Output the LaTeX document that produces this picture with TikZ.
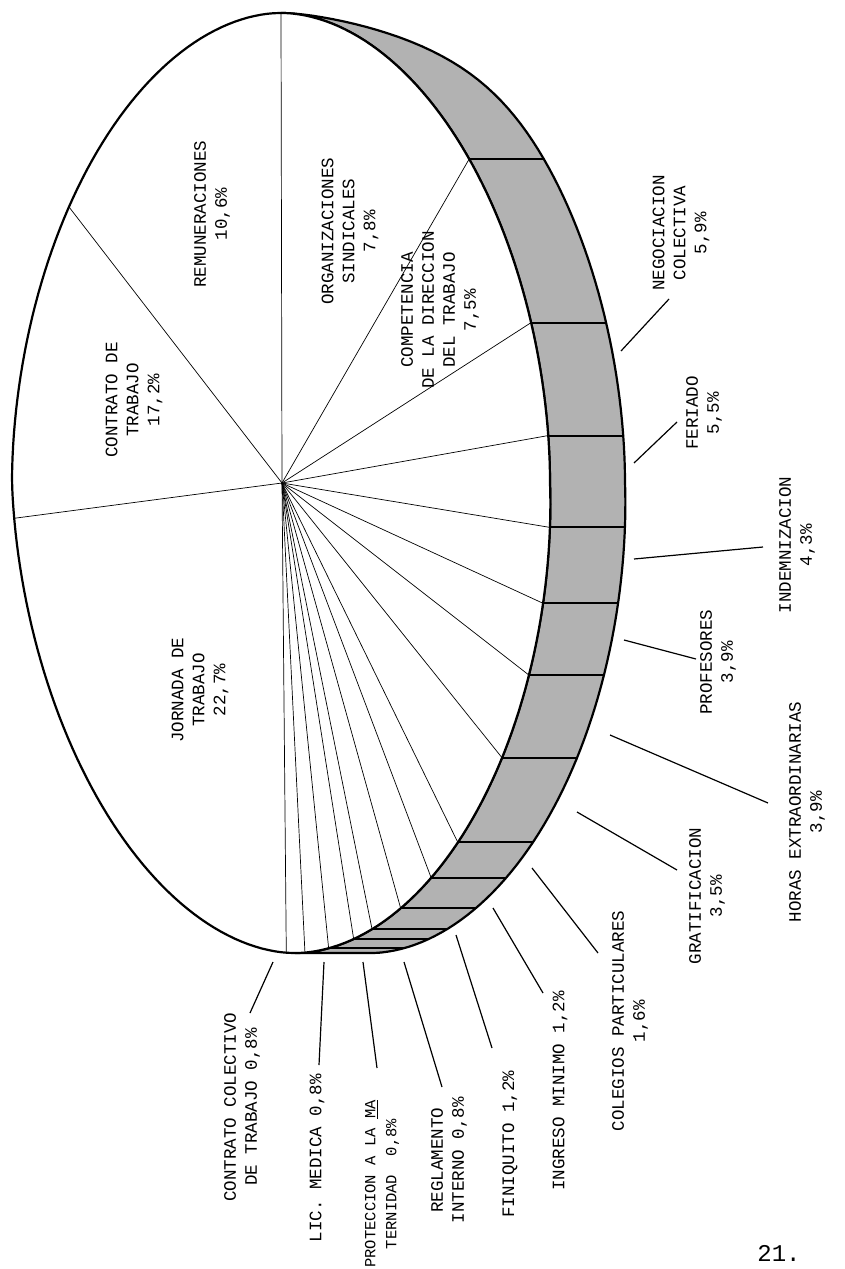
\documentclass[tikz,border=0pt]{standalone}
\usepackage{fontspec}
\newfontfamily\tw{Liberation Mono}

\tikzset{
  lab/.style={font=\tw\fontsize{17.5}{21}\selectfont, rotate=90, align=center, inner sep=0pt},
  spoke/.style={line width=0.7pt},
  rim/.style={line width=2.2pt, line join=round},
  divider/.style={line width=2pt},
  leader/.style={line width=1.2pt},
  declare function={
    ex(\t)=281+269*cos(\t)*(abs(cos(\t))+0.00001)^0.0526+14*max(-sin(\t),0);
    ey(\t)=483-470*sin(\t)*(abs(sin(\t))+0.00001)^0.0526;
    dx(\t)=75*(1-max(sin(\t),0)^15);
  },
}

\begin{document}
\begin{tikzpicture}[x=1pt,y=-1pt]
\useasboundingbox (0,0) rectangle (844,1269);
% centre of the top face and spoke ends (angles on the outline)
\coordinate (c) at (282,483);
\foreach \n/\t in {1/90,2/44.6,3/21.1,4/6.5,5/-6.1,6/-15.9,7/-25.3,8/-36.9,9/-50.8,10/-57.9,
                   11/-65.4,12/-72.1,13/-76.3,14/-82,15/-87.5,16/-92.2,17/184.9,18/142.9}
  \coordinate (s\n) at ({ex(\t)},{ey(\t)});

% side band of the pie
\filldraw[rim, fill=black!30]
  plot[domain=90:-90, samples=120] ({ex(\x)+dx(\x)},{ey(\x)})
  -- plot[domain=-90:90, samples=120] ({ex(\x)},{ey(\x)}) -- cycle;
\foreach \n in {2,...,16}
  \draw[divider] (s\n) -- ++(75,0);

% top face
\filldraw[rim, fill=white] plot[domain=0:360, samples=240] ({ex(\x)},{ey(\x)}) -- cycle;
\foreach \n in {1,...,18}
  \draw[spoke] (c) -- (s\n);

% labels
\node[lab] (rem) at (212,214) {REMUNERACIONES\\10,6\%};
\node[lab] (org) at (350,231) {ORGANIZACIONES\\SINDICALES\\7,8\%};
\node[lab] (com) at (440,310) {COMPETENCIA\\DE LA DIRECCION\\DEL TRABAJO\\7,5\%};
\node[lab] (ctr) at (134,400) {CONTRATO DE\\TRABAJO\\17,2\%};
\node[lab] (jor) at (200,690) {JORNADA DE\\TRABAJO\\22,7\%};
\node[lab] (neg) at (681,233) {NEGOCIACION\\COLECTIVA\\5,9\%};
\node[lab] (fer) at (704,413) {FERIADO\\5,5\%};
\node[lab] (ind) at (797,545) {INDEMNIZACION\\4,3\%};
\node[lab] (pro) at (718,662) {PROFESORES\\3,9\%};
\node[lab] (hor) at (807,812) {HORAS EXTRAORDINARIAS\\3,9\%};
\node[lab] (gra) at (707,896) {GRATIFICACION\\3,5\%};
\node[lab] (col) at (630,1021) {COLEGIOS PARTICULARES\\1,6\%};
\node[lab] (ing) at (560,1091) {INGRESO MINIMO 1,2\%};
\node[lab] (fin) at (510,1144) {FINIQUITO 1,2\%};
\node[lab] (reg) at (449,1160) {REGLAMENTO\\INTERNO 0,8\%};
\node[lab, font=\tw\fontsize{15.5}{21}\selectfont] (prt) at (382,1184) {PROTECCION A LA \underline{MA}\\TERNIDAD~~0,8\%};
\node[lab] (lic) at (317,1158) {LIC. MEDICA 0,8\%};
\node[lab] (cct) at (242,1107) {CONTRATO COLECTIVO\\DE TRABAJO 0,8\%};
\node[font=\tw\fontsize{24}{24}\selectfont, inner sep=0pt] (pg) at (779,1253) {21.};

% leader lines
\coordinate (neg0) at (621,351);  \coordinate (neg1) at (669,299);
\coordinate (fer0) at (634,463);  \coordinate (fer1) at (677,422);
\coordinate (ind0) at (634,559);  \coordinate (ind1) at (763,547);
\coordinate (pro0) at (624,640);  \coordinate (pro1) at (696,659);
\coordinate (hor0) at (610,735);  \coordinate (hor1) at (768,803);
\coordinate (gra0) at (577,812);  \coordinate (gra1) at (677,870);
\coordinate (col0) at (532,868);  \coordinate (col1) at (598,953);
\coordinate (ing0) at (493,908);  \coordinate (ing1) at (543,993);
\coordinate (fin0) at (456,935);  \coordinate (fin1) at (492,1048);
\coordinate (reg0) at (404,962);  \coordinate (reg1) at (442,1087);
\coordinate (prt0) at (363,962);  \coordinate (prt1) at (377,1068);
\coordinate (lic0) at (324,962);  \coordinate (lic1) at (319,1065);
\coordinate (cct0) at (273,962);  \coordinate (cct1) at (250,1013);
\path[leader]
  (neg0) edge (neg1)
  (fer0) edge (fer1)
  (ind0) edge (ind1)
  (pro0) edge (pro1)
  (hor0) edge (hor1)
  (gra0) edge (gra1)
  (col0) edge (col1)
  (ing0) edge (ing1)
  (fin0) edge (fin1)
  (reg0) edge (reg1)
  (prt0) edge (prt1)
  (lic0) edge (lic1)
  (cct0) edge (cct1);
\end{tikzpicture}
\end{document}
